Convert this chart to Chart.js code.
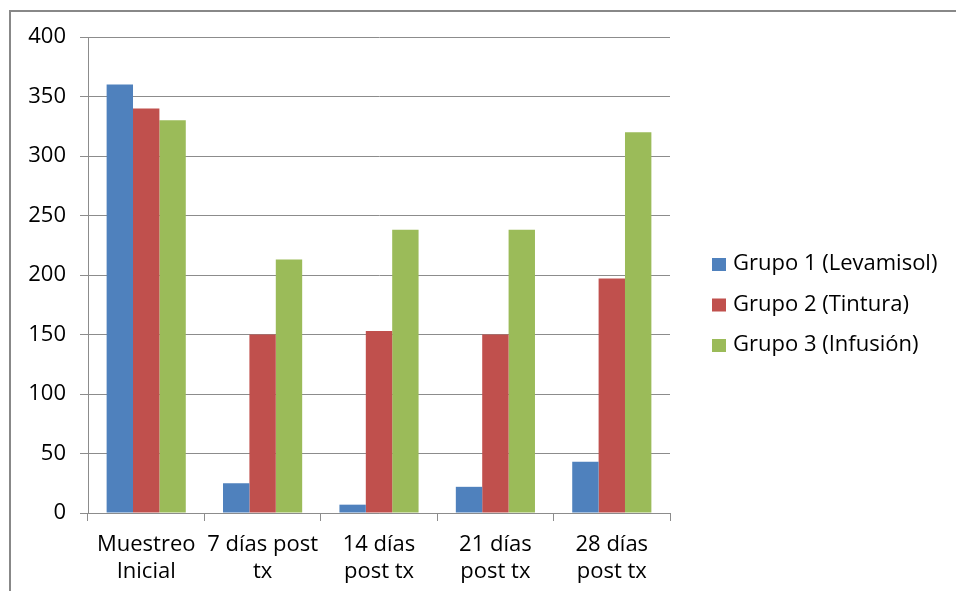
<!DOCTYPE html>
<html>
<head>
<meta charset="utf-8">
<script src="https://cdn.jsdelivr.net/npm/chart.js@4/dist/chart.umd.min.js"></script>
<style>
  html, body { margin: 0; padding: 0; background: #fff; }
  #wrap { position: relative; width: 956px; height: 591px; overflow: hidden; }
  #frame { position: absolute; left: 9px; top: 10px; width: 1000px; height: 700px;
           border-left: 2px solid #888; border-top: 2px solid #888; box-sizing: border-box; }
  canvas { position: absolute; left: 0; top: 0; }
</style>
</head>
<body>
<div id="wrap">
  <div id="frame"></div>
  <canvas id="c" width="956" height="591"></canvas>
</div>
<script>
const categories = [
  ["Muestreo", "Inicial"],
  ["7 días post", "tx"],
  ["14 días", "post tx"],
  ["21 días", "post tx"],
  ["28 días", "post tx"]
];
const seriesNames = ["Grupo 1 (Levamisol)", "Grupo 2 (Tintura)", "Grupo 3 (Infusión)"];
const grupo1 = [360, 25, 7, 22, 43];
const grupo2 = [340, 150, 153, 150, 197];
const grupo3 = [330, 213, 238, 238, 320];
const yTicks = [0, 50, 100, 150, 200, 250, 300, 350, 400];
const colors = ["#4f81bd", "#c0504d", "#9bbb59"];

const FONT = "'Open Sans', sans-serif";

// Legend drawn to the right of the plot, one row per dataset
const sideLegend = {
  id: "sideLegend",
  afterDraw(chart) {
    const ctx = chart.ctx;
    ctx.save();
    ctx.font = "22px " + FONT;
    ctx.textBaseline = "middle";
    ctx.textAlign = "left";
    const rowsY = [264, 304.5, 345];
    chart.data.datasets.forEach((ds, i) => {
      const y = rowsY[i];
      ctx.fillStyle = ds.backgroundColor;
      ctx.fillRect(712, y - 6, 14, 13);
      ctx.fillStyle = "#000";
      ctx.fillText(ds.label, 733, y);
    });
    ctx.restore();
  }
};

new Chart(document.getElementById("c"), {
  type: "bar",
  data: {
    labels: categories,
    datasets: [
      { label: seriesNames[0], data: grupo1, backgroundColor: colors[0] },
      { label: seriesNames[1], data: grupo2, backgroundColor: colors[1] },
      { label: seriesNames[2], data: grupo3, backgroundColor: colors[2] }
    ]
  },
  options: {
    responsive: false,
    animation: false,
    devicePixelRatio: 1,
    layout: { padding: { left: 0, top: 37, right: 286, bottom: 0 } },
    datasets: { bar: { categoryPercentage: 0.68, barPercentage: 1.0, borderWidth: 0 } },
    plugins: { legend: { display: false }, tooltip: { enabled: false } },
    scales: {
      x: {
        afterFit(axis) { axis.height = 78; },
        grid: { drawOnChartArea: false, drawTicks: true, tickLength: 8, color: "#8c8c8c", offset: true },
        border: { display: true, color: "#8c8c8c" },
        ticks: { color: "#000", font: { family: FONT, size: 22, lineHeight: 1.23 }, padding: 10, maxRotation: 0, autoSkip: false }
      },
      y: {
        min: 0, max: 400,
        afterBuildTicks(axis) { axis.ticks = yTicks.map(v => ({ value: v })); },
        afterFit(axis) { axis.width = 88; },
        grid: { color: "#8c8c8c", tickLength: 8 },
        border: { display: true, color: "#8c8c8c" },
        ticks: { color: "#000", font: { family: FONT, size: 22 }, padding: 14 }
      }
    }
  },
  plugins: [sideLegend]
});
</script>
</body>
</html>
